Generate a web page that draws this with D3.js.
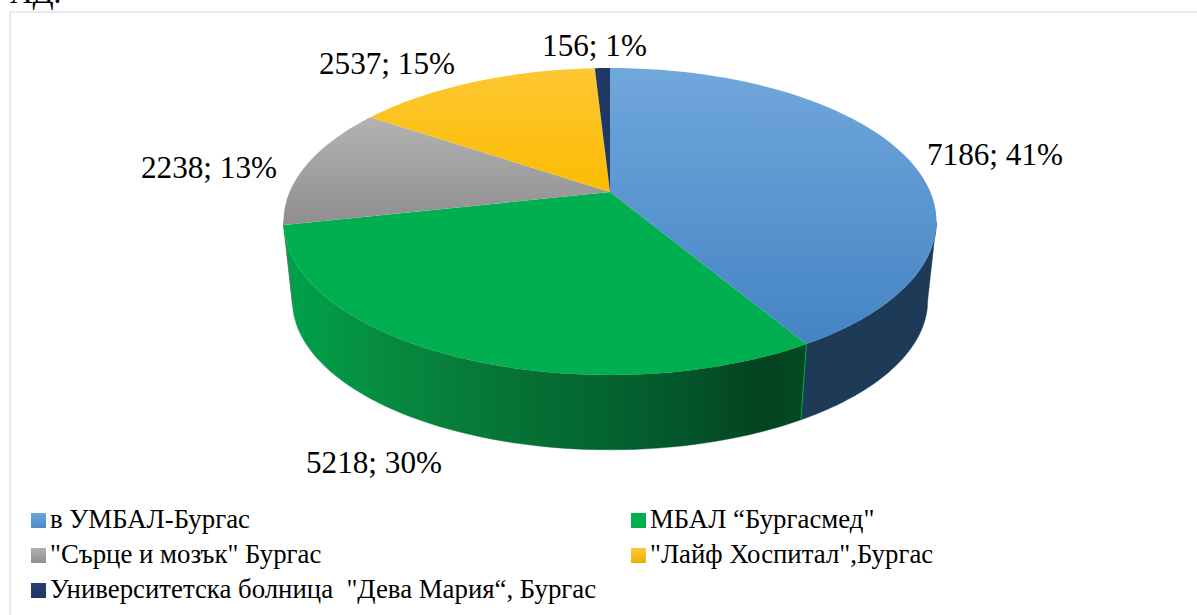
<!DOCTYPE html>
<html><head><meta charset="utf-8">
<style>html,body{margin:0;padding:0;background:#fff;overflow:hidden}svg{display:block}
text{font-family:"Liberation Serif","Times New Roman",serif;fill:#000;white-space:pre}</style>
<script src="https://cdn.jsdelivr.net/npm/d3@7"></script></head><body>
<script>
const categories = ['в УМБАЛ-Бургас','МБАЛ “Бургасмед"','"Сърце и мозък" Бургас','"Лайф Хоспитал",Бургас','Университетска болница  "Дева Мария“, Бургас'];
const values = [7186,5218,2238,2537,156];
const percents = [41,30,13,15,1];
const colorsTop = [['#70a7dc','#4484c4'],['#00b050','#00b050'],['#b3b3b3','#8e8e8e'],['#fec733','#fbbc00'],['#1f3864','#1f3864']];
const swatches = [['#6ea6dd','#4a8bcb'],['#00b050','#00b050'],['#b0b0b0','#8e8e8e'],['#ffc93a','#edb000'],['#24406f','#1f3864']];
const wallStops = {1:[[283,'#00a24b'],[400,'#07883f'],[500,'#067536'],[600,'#04652f'],[700,'#03522a'],[760,'#03431f'],[805,'#034a22']]};
const wallFlat = ['#1d3a57','#034a22','#6b6b6b','#a07800','#14264a'];
const labelAnchors = [[995,165],[374,473],[209,178],[387,74],[594.5,56]];

const W=1197,H=615;
const svg=d3.select('body').append('svg').attr('width',W).attr('height',H);
const defs=svg.append('defs');

// projective mapping of the flat pie disc onto the tilted top face
const cx=610, R=320.4, c=-0.1922, a=110.9, b=192;
const shrink=0.973, drop=85;
const topPt=t=>{const u=Math.sin(t),v=-Math.cos(t),d=1+c*v;return [cx+R*u/d,(a*v+b)/d];};
const botPt=t=>{const [x,y]=topPt(t);return [cx+(x-cx)*shrink,y*shrink+drop];};
const frontA=Math.acos(c), frontB=2*Math.PI-frontA;
const line=d3.line();
const arcs=d3.pie().sort(null).startAngle(0).endAngle(2*Math.PI)(values);
const sample=(s,e)=>d3.range(0,61).map(i=>s+(e-s)*i/60);

// frame
svg.append('rect').attr('x',10).attr('y',12).attr('width',W+20).attr('height',H+20)
  .attr('fill','#fff').attr('stroke','#dfe6ef').attr('stroke-width',1.6);
svg.append('text').attr('x',10).attr('y',3).attr('font-size',31).text('АД.');

// gradients
arcs.forEach((d,i)=>{
  const pts=sample(d.startAngle,d.endAngle).map(topPt).concat([[cx,b]]);
  const ys=pts.map(p=>p[1]);
  const g=defs.append('linearGradient').attr('id','top'+i).attr('gradientUnits','userSpaceOnUse')
    .attr('x1',0).attr('x2',0).attr('y1',d3.min(ys)).attr('y2',d3.max(ys));
  g.append('stop').attr('offset',0).attr('stop-color',colorsTop[i][0]);
  g.append('stop').attr('offset',1).attr('stop-color',colorsTop[i][1]);
  const s=defs.append('linearGradient').attr('id','sw'+i).attr('x1',0).attr('x2',0).attr('y1',0).attr('y2',1);
  s.append('stop').attr('offset',0).attr('stop-color',swatches[i][0]);
  s.append('stop').attr('offset',1).attr('stop-color',swatches[i][1]);
});
Object.keys(wallStops).forEach(k=>{
  const st=wallStops[k], x0=st[0][0], x1=st[st.length-1][0];
  const g=defs.append('linearGradient').attr('id','wall'+k).attr('gradientUnits','userSpaceOnUse')
    .attr('x1',x0).attr('x2',x1).attr('y1',0).attr('y2',0);
  st.forEach(p=>g.append('stop').attr('offset',(p[0]-x0)/(x1-x0)).attr('stop-color',p[1]));
});

// walls: only the part of each slice that faces the viewer
arcs.forEach((d,i)=>{
  const s=Math.max(d.startAngle,frontA), e=Math.min(d.endAngle,frontB);
  if(e<=s) return;
  const ang=sample(s,e);
  const pts=ang.map(topPt).concat(ang.slice().reverse().map(botPt));
  const fill=wallStops[i]?`url(#wall${i})`:wallFlat[i];
  svg.append('path').attr('d',line(pts)+'Z').attr('fill',fill).attr('stroke',fill).attr('stroke-width',0.4);
});
// thin light edge where the green wall meets the blue wall
{
  const t=arcs[0].endAngle;
  svg.append('path').attr('d',line([topPt(t),botPt(t)])).attr('stroke','#00a850').attr('stroke-width',1).attr('fill','none');
}
// top faces
arcs.forEach((d,i)=>{
  const pts=[[cx,b]].concat(sample(d.startAngle,d.endAngle).map(topPt));
  svg.append('path').attr('d',line(pts)+'Z').attr('fill',`url(#top${i})`);
});

// data labels
values.forEach((v,i)=>{
  svg.append('text').attr('x',labelAnchors[i][0]).attr('y',labelAnchors[i][1])
    .attr('text-anchor','middle').attr('font-size',31.2).text(`${v}; ${percents[i]}%`);
});

// legend
const legendX=[31,631], legendY=[528,563,598];
categories.forEach((t,i)=>{
  const x=legendX[i%2], y=legendY[Math.floor(i/2)];
  svg.append('rect').attr('x',x).attr('y',y-15).attr('width',15).attr('height',15).attr('fill',`url(#sw${i})`);
  svg.append('text').attr('x',x+19).attr('y',y).attr('font-size',26.8).text(t);
});
</script></body></html>
